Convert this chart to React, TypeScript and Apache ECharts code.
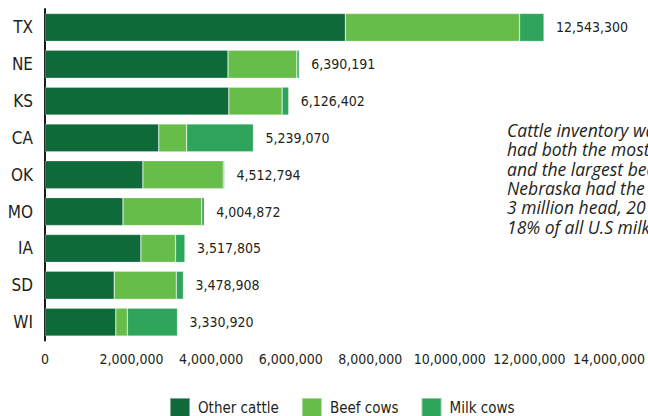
import React, { useEffect, useRef } from "react";
import * as echarts from "echarts";

const states = ["TX", "NE", "KS", "CA", "OK", "MO", "IA", "SD", "WI"];
const otherCattle = [7550000, 4600000, 4620000, 2860000, 2460000, 1960000, 2410000, 1740000, 1780000];
const beefCows = [4380000, 1730000, 1340000, 700000, 2020000, 1980000, 870000, 1560000, 290000];
const milkCows = [613300, 60191, 166402, 1679070, 32794, 64872, 237805, 178908, 1260920];
const totals = [12543300, 6390191, 6126402, 5239070, 4512794, 4004872, 3517805, 3478908, 3330920];
const xTicks = [0, 2000000, 4000000, 6000000, 8000000, 10000000, 12000000, 14000000];
const noteLines = [
  "Cattle inventory was highest in Texas, which",
  "had both the most other cattle",
  "and the largest beef cow herd.",
  "Nebraska had the second most cattle,",
  "3 million head, 20 percent of U.S.",
  "18% of all U.S milk cows.",
];

const NARROW = '"DejaVu Sans Condensed", sans-serif';
const TEXT = "#231f20";
const fmt = (v: number) => v.toLocaleString("en-US");

export default function App() {
  const ref = useRef<HTMLDivElement>(null);
  useEffect(() => {
    if (!ref.current) return;
    const chart = echarts.init(ref.current, undefined, { renderer: "svg" });
    const border = { borderColor: "rgba(255,255,255,0.45)", borderWidth: 0.6 };
    const common = { type: "bar", stack: "total", barCategoryGap: "24%" };
    chart.setOption({
      animation: false,
      grid: { left: 45, right: 37, top: 9, bottom: 75.5, containLabel: false },
      xAxis: {
        type: "value",
        min: xTicks[0],
        max: xTicks[xTicks.length - 1],
        interval: xTicks[1] - xTicks[0],
        axisLine: { show: false },
        axisTick: { show: false },
        splitLine: { show: false },
        axisLabel: {
          margin: 11,
          color: TEXT,
          fontFamily: NARROW,
          fontSize: 14,
          formatter: (v: number) => (v === 0 ? "{z|0}" : "{n|" + fmt(v) + "}"),
          rich: {
            z: { fontFamily: NARROW, fontSize: 14, color: TEXT },
            n: { fontFamily: NARROW, fontSize: 14, color: TEXT, padding: [0, 0, 0, 14] },
          },
        },
      },
      yAxis: {
        type: "category",
        data: states,
        inverse: true,
        axisLine: { show: true, lineStyle: { color: "#1a1a1a", width: 2 } },
        axisTick: { show: false },
        axisLabel: { color: TEXT, fontFamily: NARROW, fontSize: 17, margin: 12 },
      },
      legend: {
        left: 169,
        top: 397,
        padding: 0,
        itemWidth: 20,
        itemHeight: 20,
        itemGap: 22,
        icon: "rect",
        textStyle: { color: TEXT, fontFamily: NARROW, fontSize: 15, padding: [0, 0, 0, 3] },
        data: ["Other cattle", "Beef cows", "Milk cows"],
      },
      series: [
        { ...common, name: "Other cattle", data: otherCattle, itemStyle: { ...border, color: "#0e6a39" } },
        { ...common, name: "Beef cows", data: beefCows, itemStyle: { ...border, color: "#66bd4a" } },
        {
          ...common,
          name: "Milk cows",
          data: milkCows,
          itemStyle: { ...border, color: "#2ea55a" },
          label: {
            show: true,
            position: "right",
            distance: 12,
            color: TEXT,
            fontFamily: NARROW,
            fontSize: 14,
            formatter: (p: any) => fmt(totals[p.dataIndex]),
          },
        },
      ],
      graphic: [
        {
          type: "text",
          left: 507,
          top: 120.5,
          style: {
            text: noteLines.join("\n"),
            fontFamily: '"Open Sans", "Noto Sans", sans-serif',
            fontStyle: "italic",
            fontSize: 17.5,
            lineHeight: 19.3,
            fill: TEXT,
          },
        },
      ],
    });
    return () => chart.dispose();
  }, []);
  return <div ref={ref} style={{ position: "fixed", left: 0, top: 0, width: 648, height: 416, background: "#fff" }} />;
}
